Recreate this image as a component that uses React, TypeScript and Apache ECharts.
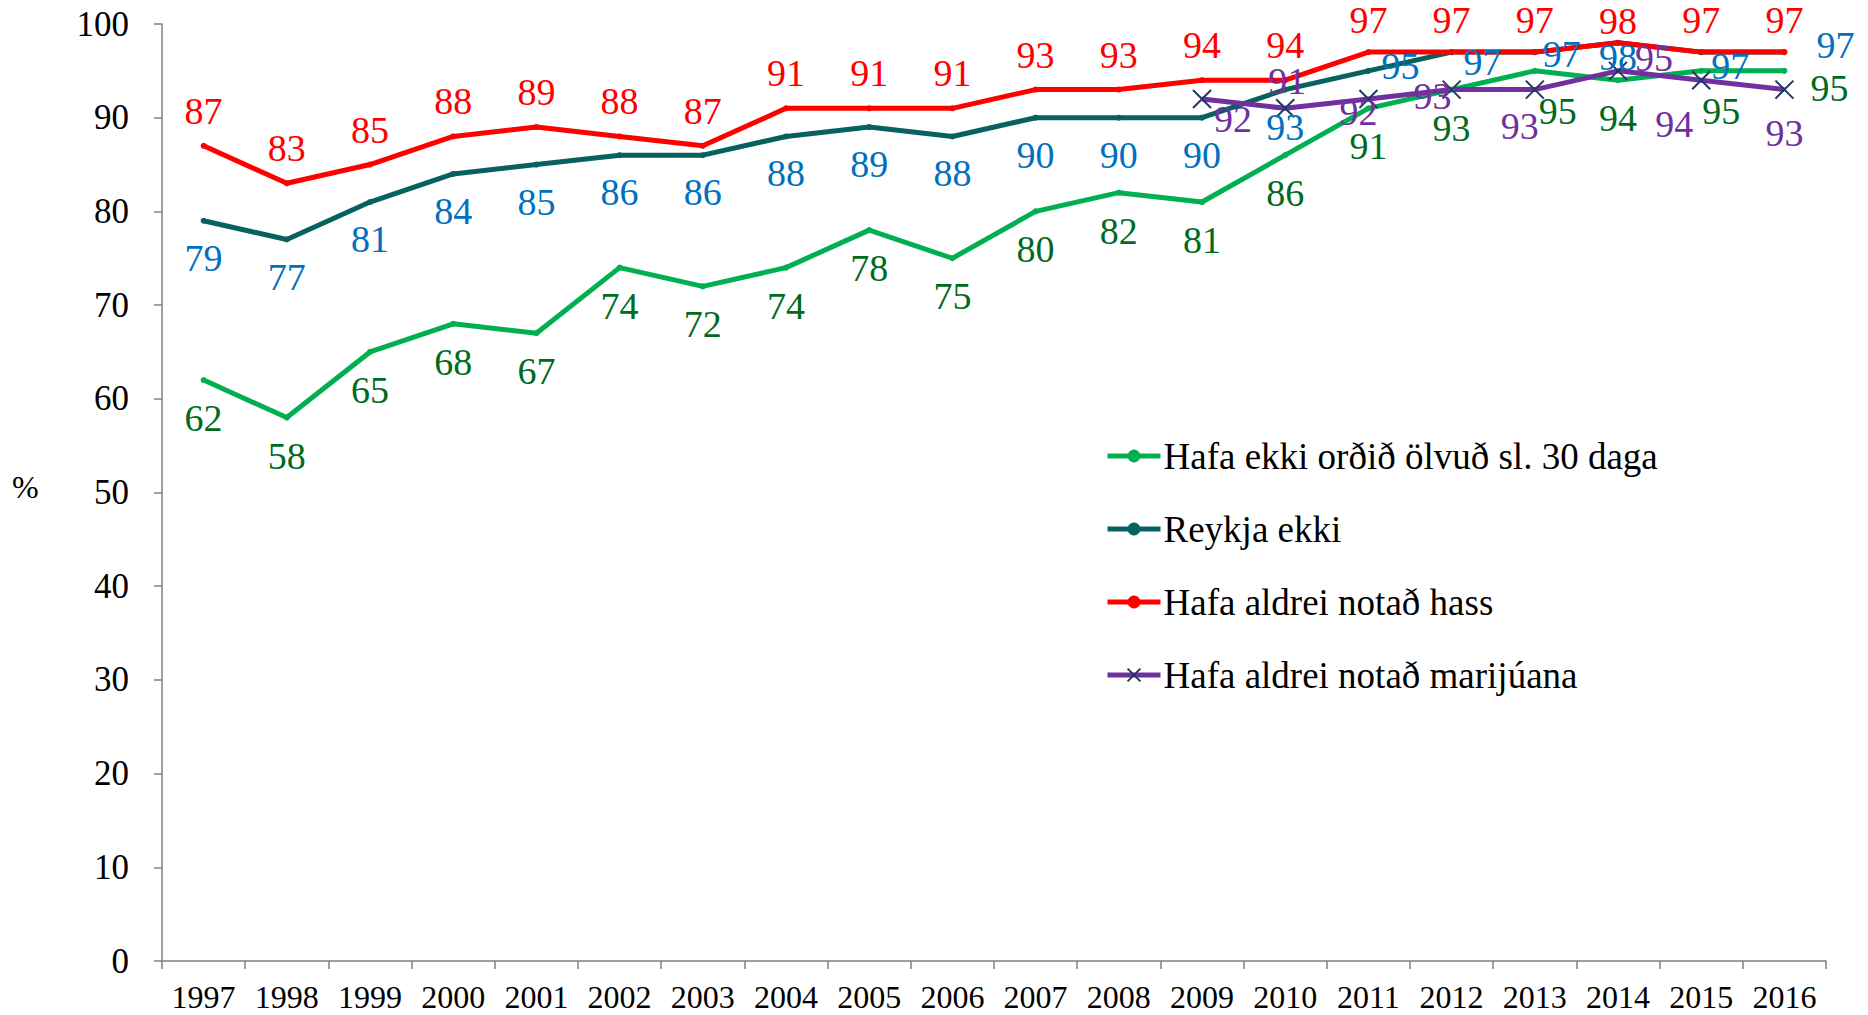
import React, { useEffect, useRef } from "react";
import * as echarts from "echarts";

const years = ["1997","1998","1999","2000","2001","2002","2003","2004","2005","2006","2007","2008","2009","2010","2011","2012","2013","2014","2015","2016"];
const drunk = [62,58,65,68,67,74,72,74,78,75,80,82,81,86,91,93,95,94,95,95];
const noSmoke = [79,77,81,84,85,86,86,88,89,88,90,90,90,93,95,97,97,98,97,97];
const noHash = [87,83,85,88,89,88,87,91,91,91,93,93,94,94,97,97,97,98,97,97];
const noMarijuana = [null,null,null,null,null,null,null,null,null,null,null,null,92,91,92,93,93,95,94,93];
const names = [
  "Hafa ekki orðið ölvuð sl. 30 daga",
  "Reykja ekki",
  "Hafa aldrei notað hass",
  "Hafa aldrei notað marijúana",
];

// label placement tweaks (style only)
const greenOff: Record<string, number[]> = { "2013": [23, 40], "2015": [20, 40], "2016": [45, 17] };
const tealOff: Record<string, number[]> = { "2011": [32, -5], "2012": [31, 10], "2013": [27, 2], "2014": [0, 14], "2015": [29, 14], "2016": [51, -7] };
const redOff: Record<string, number[]> = { "2011": [0, -32], "2012": [0, -32], "2013": [0, -32], "2014": [0, -22], "2015": [0, -32], "2016": [0, -32] };
const purpleOff: Record<string, number[]> = { "2009": [31, 20], "2010": [2, -27], "2011": [-10, 13], "2012": [-19, 6], "2013": [-15, 36], "2014": [36, -13], "2015": [-27, 44], "2016": [0, 43] };

const FONT = "'Liberation Serif', 'Times New Roman', serif";

function build(values: (number | null)[], def: number[], over: Record<string, number[]>) {
  return values.map((v, i) => {
    if (v === null) return null;
    const off = over[years[i]] || def;
    return { value: v, label: { offset: off } };
  });
}

export default function App() {
  const ref = useRef<HTMLDivElement>(null);
  useEffect(() => {
    if (!ref.current) return;
    const chart = echarts.init(ref.current, undefined, { renderer: "svg" });
    const labelBase = (color: string) => ({
      show: true,
      position: "inside",
      color,
      fontSize: 38,
      lineHeight: 32,
      fontFamily: FONT,
      align: "center",
      verticalAlign: "middle",
    });
    chart.setOption({
      animation: false,
      backgroundColor: "#fff",
      textStyle: { fontFamily: FONT },
      grid: { left: 162, right: 42, top: 24, bottom: 54 },
      legend: {
        orient: "vertical",
        left: 1105,
        top: 436,
        padding: 0,
        itemWidth: 53,
        itemHeight: 16,
        itemGap: 33,
        lineStyle: { width: 5 },
        textStyle: { fontSize: 37, color: "#000", fontFamily: FONT, lineHeight: 40, padding: [0, 0, 0, -2] },
        data: names,
      },
      graphic: [
        { type: "text", left: 12, top: 471, style: { text: "%", fontSize: 32, fontFamily: FONT, fill: "#000" } },
      ],
      xAxis: {
        type: "category",
        data: years,
        boundaryGap: true,
        axisLine: { lineStyle: { color: "#808080", width: 1.5 } },
        axisTick: { show: true, length: 8, lineStyle: { color: "#808080", width: 1.5 }, interval: 0 },
        axisLabel: { color: "#000", fontSize: 32, fontFamily: FONT, margin: 21, lineHeight: 30, interval: 0 },
      },
      yAxis: {
        type: "value",
        min: 0,
        max: 100,
        interval: 10,
        splitLine: { show: false },
        axisLine: { show: true, lineStyle: { color: "#808080", width: 1.5 } },
        axisTick: { show: true, length: 8, lineStyle: { color: "#808080", width: 1.5 } },
        axisLabel: { color: "#000", fontSize: 35, fontFamily: FONT, margin: 33 },
      },
      series: [
        {
          name: names[0],
          type: "line",
          data: build(drunk, [0, 38], greenOff),
          symbol: "circle",
          symbolSize: 6,
          lineStyle: { color: "#00B050", width: 5 },
          itemStyle: { color: "#00B050" },
          label: labelBase("#006B1E"),
        },
        {
          name: names[1],
          type: "line",
          data: build(noSmoke, [0, 37], tealOff),
          symbol: "circle",
          symbolSize: 6,
          lineStyle: { color: "#07625F", width: 5 },
          itemStyle: { color: "#07625F" },
          label: labelBase("#0070C0"),
        },
        {
          name: names[2],
          type: "line",
          data: build(noHash, [0, -35], redOff),
          symbol: "circle",
          symbolSize: 6,
          lineStyle: { color: "#FF0000", width: 5 },
          itemStyle: { color: "#FF0000" },
          label: labelBase("#FF0000"),
        },
        {
          name: names[3],
          type: "line",
          data: build(noMarijuana, [0, 37], purpleOff),
          symbol: "path://M0,0L10,10M10,0L0,10",
          symbolSize: 18,
          lineStyle: { color: "#7030A0", width: 5 },
          itemStyle: { color: "#1F3864", borderColor: "#1F3864", borderWidth: 2 },
          label: labelBase("#7030A0"),
        },
      ],
    });
    return () => chart.dispose();
  }, []);
  return <div ref={ref} style={{ position: "fixed", left: 0, top: 0, width: 1868, height: 1015 }} />;
}
